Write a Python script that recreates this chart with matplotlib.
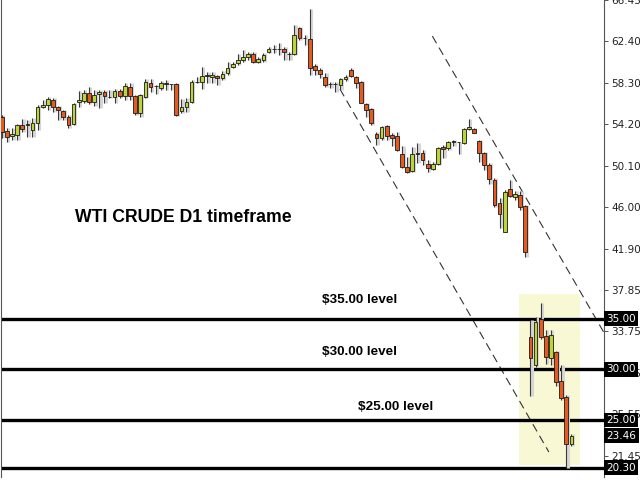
import matplotlib
matplotlib.use("Agg")
import matplotlib.pyplot as plt
import matplotlib.transforms as mtransforms
from matplotlib.patches import Rectangle
import numpy as np

# Daily OHLC prices, WTI crude
opens = [54.87, 53.55, 52.99, 53.12, 54.11, 54.21, 53.62, 54.28, 55.86, 56.08,
         56.58, 55.86, 55.49, 54.93, 54.18, 56.41, 56.51, 57.24, 56.38, 57.14,
         57.40, 56.92, 56.84, 57.47, 57.00, 57.89, 56.94, 55.27, 56.90, 58.28,
         57.98, 57.80, 58.28, 58.15, 58.15, 55.49, 55.92, 56.35, 58.31, 58.32,
         59.05, 58.82, 58.95, 58.78, 59.21, 59.86, 60.20, 60.53, 60.79, 61.12,
         60.30, 60.53, 61.32, 61.62, 61.59, 61.58, 61.16, 61.09, 63.65, 62.74,
         62.63, 59.93, 59.54, 58.82, 58.20, 58.17, 58.06, 58.65, 59.54, 58.88,
         58.35, 56.18, 55.66, 53.22, 52.80, 54.01, 53.12, 53.02, 51.22, 50.00,
         49.58, 51.38, 51.32, 50.23, 49.74, 50.26, 51.91, 51.81, 52.54, 52.42,
         52.31, 53.69, 53.72, 52.54, 51.32, 50.16, 48.68, 46.38, 43.58, 47.80,
         47.03, 47.20, 46.12, 33.19, 30.43, 34.97, 33.29, 31.12, 31.71, 28.85,
         27.27, 22.63]
highs = [55.10, 53.84, 53.79, 54.21, 54.70, 54.60, 54.80, 56.08, 56.58, 56.84,
         56.75, 55.99, 55.59, 55.10, 56.31, 57.50, 57.57, 57.83, 57.57, 57.57,
         57.57, 57.57, 57.63, 57.63, 58.23, 58.23, 57.07, 57.14, 58.65, 58.68,
         58.06, 58.49, 58.55, 58.18, 58.23, 56.68, 56.75, 58.55, 58.88, 59.86,
         59.31, 59.37, 59.05, 59.44, 60.36, 60.30, 61.09, 61.51, 61.35, 61.35,
         60.85, 61.19, 61.84, 62.00, 62.23, 61.84, 61.35, 63.98, 63.81, 62.99,
         65.53, 60.13, 59.71, 59.21, 58.38, 58.38, 58.72, 59.05, 59.71, 58.98,
         58.42, 56.25, 55.76, 53.45, 54.01, 54.11, 53.29, 53.45, 52.04, 50.98,
         51.91, 52.37, 51.65, 50.66, 50.49, 51.97, 52.14, 52.56, 52.63, 52.47,
         53.79, 54.68, 53.79, 52.63, 51.48, 50.33, 48.85, 46.88, 47.70, 48.68,
         47.63, 47.60, 46.22, 34.87, 35.16, 36.55, 33.88, 33.88, 31.81, 30.43,
         27.47, 23.60]
lows = [52.83, 52.46, 52.63, 52.63, 53.45, 52.96, 52.96, 53.62, 55.76, 55.59,
        55.42, 54.60, 54.60, 53.79, 54.11, 55.92, 56.25, 56.18, 55.99, 55.76,
        56.25, 56.75, 56.25, 56.75, 56.58, 56.58, 55.10, 54.87, 56.75, 57.40,
        57.14, 57.57, 57.57, 57.57, 54.99, 55.27, 55.42, 56.25, 58.23, 57.63,
        58.23, 58.23, 58.06, 58.55, 59.05, 59.71, 60.03, 60.30, 60.53, 60.20,
        60.20, 60.36, 61.19, 61.19, 61.02, 60.53, 60.53, 61.02, 62.50, 62.01,
        59.05, 59.05, 58.72, 57.89, 57.73, 57.40, 57.57, 58.48, 58.82, 57.73,
        56.25, 54.93, 54.11, 52.13, 52.67, 52.63, 52.04, 51.57, 49.90, 49.41,
        49.51, 50.39, 50.20, 49.51, 49.67, 50.20, 50.82, 51.65, 52.04, 51.25,
        52.24, 53.62, 53.29, 50.49, 49.67, 48.29, 46.05, 43.92, 43.52, 46.98,
        46.71, 45.72, 41.11, 27.37, 30.23, 32.99, 30.53, 30.43, 28.36, 26.97,
        20.30, 22.43]
closes = [53.45, 52.96, 53.22, 54.11, 53.72, 54.08, 54.28, 55.86, 56.05, 56.68,
          55.86, 55.56, 54.87, 54.08, 56.15, 56.61, 57.24, 56.41, 57.07, 57.34,
          56.94, 56.89, 57.47, 57.00, 57.93, 56.94, 55.27, 57.04, 58.32, 57.89,
          57.95, 58.23, 58.12, 58.13, 55.13, 55.92, 56.35, 58.32, 58.33, 58.98,
          58.92, 59.02, 58.78, 59.14, 59.71, 60.13, 60.53, 60.82, 61.09, 60.30,
          60.62, 61.02, 61.64, 61.60, 61.57, 61.29, 61.14, 62.96, 62.67, 62.72,
          59.77, 59.54, 59.14, 58.06, 58.18, 58.15, 58.65, 58.88, 58.95, 58.29,
          56.31, 55.59, 54.28, 52.80, 53.94, 53.03, 52.86, 51.64, 49.94, 49.51,
          51.22, 51.25, 50.66, 49.84, 50.26, 51.87, 51.77, 52.47, 52.41, 52.40,
          53.75, 53.89, 53.35, 51.32, 50.16, 48.75, 46.22, 45.33, 47.53, 47.13,
          47.27, 46.05, 41.61, 31.12, 34.67, 33.19, 31.22, 33.39, 28.75, 27.17,
          22.63, 23.46]

# Right-hand price scale
price_ticks = [66.45, 62.40, 58.30, 54.20, 50.10, 46.00, 41.90, 37.85, 33.75,
               29.65, 25.55, 21.45]

# Horizontal support levels and their captions
level_values = [35.00, 30.00, 25.00, 20.30]
level_captions = ["$35.00 level", "$30.00 level", "$25.00 level"]
last_price = 23.46

# Descending channel (start x, start price, end x, end price)
channel_lower = [65.9, 57.66, 106.6, 21.84]
channel_upper = [83.9, 62.89, 117.34, 33.62]

# Highlighted zone around the latest sell-off (x0, x1, price0, price1)
zone = [100.84, 112.66, 20.55, 37.43]

UP = "#bcd435"
DOWN = "#e55a1f"

fig = plt.figure(figsize=(6.4, 4.8), dpi=100)
ax = fig.add_axes([1 / 640, 3 / 480, 603 / 640, 477 / 480])
ax.set_xlim(-0.136, 117.34)
ax.set_ylim(19.376, 66.446)

# highlighted zone
ax.add_patch(Rectangle((zone[0], zone[2]), zone[1] - zone[0], zone[3] - zone[2],
                       facecolor="#f8f8d4", edgecolor="none", zorder=0))

# channel lines
for seg in (channel_lower, channel_upper):
    ax.plot([seg[0], seg[2]], [seg[1], seg[3]], color="#333333", lw=0.8,
            linestyle=(0, (7.5, 4.5)), zorder=1)

# support levels
for lv in level_values:
    ax.axhline(lv, color="black", lw=2.4, zorder=2)

# candles, with a soft grey shadow behind each one
x = np.arange(len(opens))
o = np.array(opens)
c = np.array(closes)
h = np.array(highs)
l = np.array(lows)
ax.vlines(x + 0.3, l, h, color="#d6d6d6", lw=2.2, zorder=2.5)
ax.vlines(x, l, h, color="#3a3a3a", lw=0.8, zorder=3)
up = c >= o
colors = np.where(up, UP, DOWN)
bottoms = np.minimum(o, c)
heights = np.abs(c - o)
ax.bar(x, heights, bottom=bottoms, width=0.72, color=colors,
       edgecolor="#1a1a1a", linewidth=0.6, zorder=4)

# titles and captions
ax.text(14.3, 45.03, "WTI CRUDE D1 timeframe", fontsize=12.7, fontweight="bold",
        family="Liberation Sans", ha="left", va="center", zorder=5)
caption_pos = [(62.4, 36.84), (62.4, 31.71), (69.4, 26.28)]
for (cx, cy), txt in zip(caption_pos, level_captions):
    ax.text(cx, cy, txt, fontsize=9.7, fontweight="bold", family="Liberation Sans",
            ha="left", va="center", zorder=5)

# axes styling
for side in ("top", "bottom"):
    ax.spines[side].set_visible(False)
ax.spines["left"].set_color("#555555")
ax.spines["right"].set_color("#555555")
ax.spines["left"].set_linewidth(0.8)
ax.spines["right"].set_linewidth(0.8)
ax.set_xticks([])
ax.yaxis.tick_right()
ax.set_yticks(price_ticks)
ax.set_yticklabels([f"{t:.2f}" for t in price_ticks])
ax.tick_params(axis="y", which="both", direction="out", length=3, width=0.7,
               colors="#555555", labelcolor="#222222", labelsize=7.5, pad=2)

# boxed price labels on the scale
trans = mtransforms.blended_transform_factory(ax.transAxes, ax.transData)
for val in level_values + [last_price]:
    ax.text(1.004, val, f"{val:.2f}", transform=trans, fontsize=7.5,
            color="white", ha="left", va="center", clip_on=False, zorder=10,
            bbox=dict(boxstyle="square,pad=0.22", facecolor="black",
                      edgecolor="none"))

fig.savefig("out.png", dpi=100)
